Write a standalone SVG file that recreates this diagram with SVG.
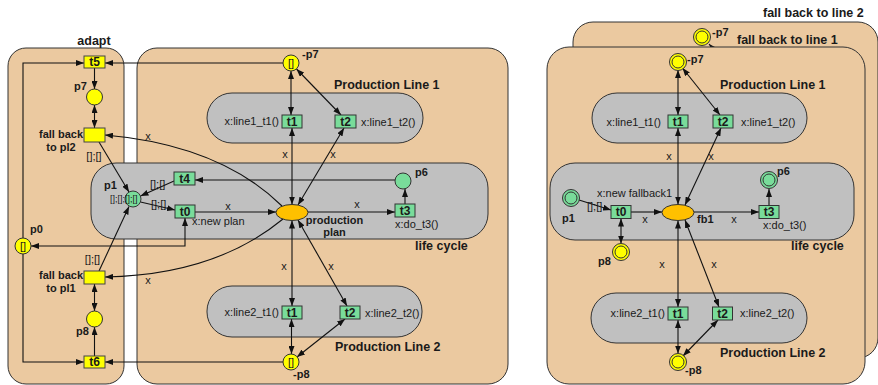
<svg xmlns="http://www.w3.org/2000/svg" width="878" height="385" viewBox="0 0 878 385">
<defs>
<marker id="ah" viewBox="0 0 8 6" refX="8" refY="3" markerWidth="8" markerHeight="6" markerUnits="userSpaceOnUse" orient="auto-start-reverse"><path d="M0,0 L8,3 L0,6 z" fill="#111"/></marker>
</defs>
<style>
text{font-family:"Liberation Sans",Arial,sans-serif;fill:#1a1a1a}
.ct{font-size:12.5px;font-weight:bold}
.b{font-size:11px;font-weight:bold}
.n{font-size:11px}
.s{font-size:9px}
.tl{font-size:12px;font-weight:bold;text-anchor:middle}
.m{text-anchor:middle}
.e{text-anchor:end}
.cont{fill:#EBC9A0;stroke:#333;stroke-width:1}
.gray{fill:#C0C0C0;stroke:#333;stroke-width:1}
.ty{fill:#FFFF00;stroke:#444;stroke-width:1}
.tg{fill:#79DC9A;stroke:#333;stroke-width:1}
.py{fill:#FFFF00;stroke:#333;stroke-width:1}
.pg{fill:#79DC9A;stroke:#333;stroke-width:1}
.ell{fill:#FFC000;stroke:#333;stroke-width:1}
.cn path{fill:none;stroke:#111;stroke-width:1.1}
.a1{marker-end:url(#ah)}
.a2{marker-start:url(#ah);marker-end:url(#ah)}
</style>

<!-- left containers -->
<g id="adapt"><rect class="cont" x="8" y="48" width="116" height="336" rx="18"/><text class="ct m" x="94" y="45">adapt</text></g>
<g id="production-lines"><rect class="cont" x="137" y="48" width="371" height="336" rx="20"/></g>
<g id="line1"><rect class="gray" x="207" y="93" width="216" height="50" rx="25"/><text class="ct" x="334" y="89">Production Line 1</text></g>
<g id="lifecycle"><rect class="gray" x="91" y="163" width="397" height="76" rx="25"/><text class="ct" x="415" y="250">life cycle</text></g>
<g id="line2"><rect class="gray" x="207" y="286" width="215" height="51" rx="25"/><text class="ct" x="335" y="351">Production Line 2</text></g>

<!-- right containers -->
<g id="fallback2"><rect class="cont" x="573" y="22" width="305" height="336" rx="20"/><text class="ct" x="763" y="17">fall back to line 2</text></g>
<g id="connectors-back" class="cn"><path class="a1" d="M722,58 L709,44"/></g>
<g id="fb2-p7"><circle class="py" cx="702" cy="37" r="8.5"/><circle class="py" cx="702" cy="37" r="6"/><text class="b" x="712" y="36">-p7</text></g>
<g id="fallback1"><rect class="cont" x="547" y="47" width="318" height="337" rx="22"/><text class="ct" x="737" y="44">fall back to line 1</text></g>
<g id="r-line1"><rect class="gray" x="592" y="93" width="215" height="50" rx="25"/><text class="ct" x="720" y="89">Production Line 1</text></g>
<g id="r-lifecycle"><rect class="gray" x="550" y="163" width="304" height="77" rx="25"/><text class="ct" x="791" y="250">life cycle</text></g>
<g id="r-line2"><rect class="gray" x="591" y="293" width="216" height="50" rx="25"/><text class="ct" x="720" y="357">Production Line 2</text></g>

<!-- connectors -->
<g id="connectors" class="cn">
<path class="a1" d="M23,238 V63 H84"/>
<path class="a1" d="M23,254 V362 H84"/>
<path class="a1" d="M283,63 H105"/>
<path class="a1" d="M283,362 H105"/>
<path class="a1" d="M94.5,68 V89"/>
<path class="a2" d="M94.5,105 V128"/>
<path class="a2" d="M94.5,284 V311"/>
<path class="a1" d="M94.5,356 V327"/>
<path class="a1" d="M99,142 L129,192"/>
<path class="a1" d="M99,271 L129,206.5"/>
<path class="a2" d="M185,218 V246 H31"/>
<path class="a1" d="M174,181 L140.5,196"/>
<path class="a1" d="M140.5,202 L175,210"/>
<path class="a1" d="M195,212 H276"/>
<path class="a1" d="M308,212 H395"/>
<path class="a1" d="M405,204 V189"/>
<path class="a1" d="M395,180 H195"/>
<path class="a2" d="M291,71 V115"/>
<path class="a2" d="M296.5,69 L341,115"/>
<path class="a2" d="M292,128 V204.5"/>
<path class="a2" d="M344,128 L298,205"/>
<path class="a2" d="M292,220.5 V306"/>
<path class="a2" d="M298,220 L347,306"/>
<path class="a2" d="M291.5,319 V354"/>
<path class="a2" d="M345,319 L297,357"/>
<path class="a1" d="M282,206 Q220,145 105,135"/>
<path class="a1" d="M283,219 Q215,275 105,277"/>
<!-- right -->
<path class="a2" d="M678,70 V115"/>
<path class="a2" d="M682.5,68 L720,115"/>
<path class="a2" d="M678,128 V204.5"/>
<path class="a2" d="M721,128 L685,205"/>
<path class="a1" d="M579,200 L611,210"/>
<path class="a1" d="M631,212 H662"/>
<path class="a1" d="M694,212 H759"/>
<path class="a1" d="M769,205.5 V189"/>
<path class="a2" d="M621,218.5 V243.5"/>
<path class="a2" d="M678,220.5 V307"/>
<path class="a2" d="M685,220 L719,307"/>
<path class="a2" d="M678,320 V353.5"/>
<path class="a2" d="M718,320 L683,356"/>
</g>

<!-- connector labels -->
<g id="arc-labels">
<text class="n m" x="94" y="160">[];[]</text>
<text class="n m" x="92.5" y="263">[];[]</text>
<text class="n" x="150" y="188">[];[]</text>
<text class="n" x="151" y="208">[];[]</text>
<text class="n m" x="228" y="210">x</text>
<text class="n m" x="357" y="208">x</text>
<text class="n m" x="148" y="140">x</text>
<text class="n m" x="148" y="284">x</text>
<text class="n m" x="285" y="158">x</text>
<text class="n m" x="333" y="158">x</text>
<text class="n m" x="284" y="270">x</text>
<text class="n m" x="331" y="270">x</text>
<text class="n m" x="669" y="160">x</text>
<text class="n m" x="711" y="160">x</text>
<text class="n m" x="645" y="223">x</text>
<text class="n m" x="734" y="223">x</text>
<text class="n m" x="662" y="268">x</text>
<text class="n m" x="714" y="268">x</text>
<text class="n" x="587" y="210">[];[]</text>
</g>

<!-- left nodes -->
<g id="t5"><rect class="ty" x="84" y="56" width="21" height="12"/><text class="tl" x="94.5" y="66">t5</text></g>
<g id="t6"><rect class="ty" x="84" y="356" width="21" height="12"/><text class="tl" x="94.5" y="366">t6</text></g>
<g id="p7"><circle class="py" cx="94.5" cy="97" r="8"/><text class="b" x="74" y="90">p7</text></g>
<g id="p8"><circle class="py" cx="94.5" cy="319" r="8"/><text class="b" x="76" y="335">p8</text></g>
<g id="fallback-pl2"><rect class="ty" x="84" y="128" width="21" height="14"/><text class="b m" x="61" y="138">fall back</text><text class="b m" x="61" y="151">to pl2</text></g>
<g id="fallback-pl1"><rect class="ty" x="84" y="271" width="21" height="13"/><text class="b m" x="61" y="279">fall back</text><text class="b m" x="61" y="292">to pl1</text></g>
<g id="p0"><circle class="py" cx="23" cy="246" r="8"/><text class="n m" x="23" y="250">[]</text><text class="b" x="30" y="233">p0</text></g>
<g id="mp7"><circle class="py" cx="291" cy="63" r="8"/><text class="n m" x="291" y="67">[]</text><text class="b" x="302" y="58">-p7</text></g>
<g id="mp8"><circle class="py" cx="291" cy="362" r="8"/><text class="n m" x="291" y="366">[]</text><text class="b" x="293" y="378">-p8</text></g>
<g id="p1"><circle class="pg" cx="133" cy="199" r="8"/><text class="s" x="110" y="202">[];[];[];[]</text><text class="b" x="104" y="189">p1</text></g>
<g id="p6"><circle class="pg" cx="403" cy="181" r="8"/><text class="b" x="415" y="176">p6</text></g>
<g id="t4"><rect class="tg" x="174" y="172" width="21" height="13"/><text class="tl" x="184.5" y="182.5">t4</text></g>
<g id="t0"><rect class="tg" x="175" y="205" width="20" height="13"/><text class="tl" x="185" y="215.5">t0</text><text class="n" x="192" y="225">x:new plan</text></g>
<g id="t3"><rect class="tg" x="395" y="204" width="20" height="13"/><text class="tl" x="405" y="214.5">t3</text><text class="n" x="395" y="228">x:do_t3()</text></g>
<g id="production-plan"><ellipse class="ell" cx="292" cy="212.5" rx="16" ry="8"/><text class="b m" x="334.5" y="224">production</text><text class="b m" x="334.5" y="236">plan</text></g>
<g id="l1-t1"><rect class="tg" x="282" y="115" width="20" height="13"/><text class="tl" x="292" y="125.5">t1</text><text class="n e" x="279" y="125">x:line1_t1()</text></g>
<g id="l1-t2"><rect class="tg" x="335" y="115" width="21" height="13"/><text class="tl" x="345.5" y="125.5">t2</text><text class="n" x="361" y="126">x:line1_t2()</text></g>
<g id="l2-t1"><rect class="tg" x="282" y="306" width="20" height="13"/><text class="tl" x="292" y="316.5">t1</text><text class="n e" x="279" y="316">x:line2_t1()</text></g>
<g id="l2-t2"><rect class="tg" x="340" y="306" width="20" height="13"/><text class="tl" x="350" y="316.5">t2</text><text class="n" x="365" y="317">x:line2_t2()</text></g>

<!-- right nodes -->
<g id="r-mp7"><circle class="py" cx="678" cy="62" r="8.5"/><circle class="py" cx="678" cy="62" r="6"/><text class="b" x="687" y="63">-p7</text></g>
<g id="r-l1-t1"><rect class="tg" x="668" y="115" width="20" height="13"/><text class="tl" x="678" y="125.5">t1</text><text class="n e" x="661" y="126">x:line1_t1()</text></g>
<g id="r-l1-t2"><rect class="tg" x="713" y="115" width="20" height="13"/><text class="tl" x="723" y="125.5">t2</text><text class="n" x="741" y="126">x:line1_t2()</text></g>
<g id="r-p1"><circle class="pg" cx="571" cy="198" r="8.5"/><circle class="pg" cx="571" cy="198" r="6"/><text class="b" x="562" y="222">p1</text></g>
<g id="r-t0"><rect class="tg" x="611" y="205.5" width="20" height="13"/><text class="tl" x="621" y="216">t0</text><text class="n" x="597" y="197">x:new fallback1</text></g>
<g id="r-fb1"><ellipse class="ell" cx="678" cy="212.5" rx="16" ry="8"/><text class="b" x="697" y="223">fb1</text></g>
<g id="r-t3"><rect class="tg" x="759" y="205.5" width="20" height="13"/><text class="tl" x="769" y="216">t3</text><text class="n" x="763" y="229">x:do_t3()</text></g>
<g id="r-p6"><circle class="pg" cx="769" cy="180" r="8.5"/><circle class="pg" cx="769" cy="180" r="6"/><text class="b" x="777" y="175">p6</text></g>
<g id="r-p8"><circle class="py" cx="621" cy="252" r="8.5"/><circle class="py" cx="621" cy="252" r="6"/><text class="b" x="598" y="265">p8</text></g>
<g id="r-l2-t1"><rect class="tg" x="668" y="307" width="20" height="13"/><text class="tl" x="678" y="317.5">t1</text><text class="n e" x="665" y="317">x:line2_t1()</text></g>
<g id="r-l2-t2"><rect class="tg" x="712.5" y="307" width="20" height="13"/><text class="tl" x="722.5" y="317.5">t2</text><text class="n" x="740" y="317">x:line2_t2()</text></g>
<g id="r-mp8"><circle class="py" cx="678" cy="362" r="8.5"/><circle class="py" cx="678" cy="362" r="6"/><text class="b" x="685" y="374">-p8</text></g>
</svg>
